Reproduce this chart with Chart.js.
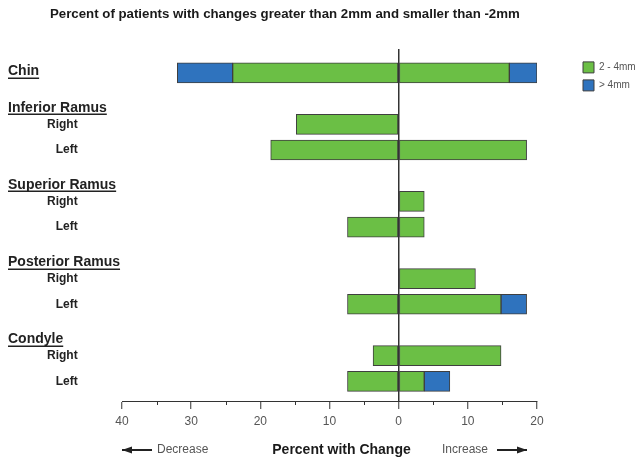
<!DOCTYPE html>
<html>
<head>
<meta charset="utf-8">
<script src="https://cdn.jsdelivr.net/npm/chart.js@4.4.1/dist/chart.umd.min.js"></script>
<style>
  html, body { margin: 0; padding: 0; background: #ffffff; }
  #wrap { width: 639px; height: 464px; }
</style>
</head>
<body>
<div id="wrap"><canvas id="c" width="639" height="464"></canvas></div>
<script>
// ---------------- data ----------------
const chartTitle = "Percent of patients with changes greater than 2mm and smaller than -2mm";
const rows = ["Chin", "Inferior Ramus", "Right", "Left", "Superior Ramus", "Right", "Left",
              "Posterior Ramus", "Right", "Left", "Condyle", "Right", "Left"];
const groupHeaders = ["Chin", "Inferior Ramus", "Superior Ramus", "Posterior Ramus", "Condyle"];
const seriesNames = ["2 - 4mm", "> 4mm"];
// percent of patients (negative = decrease, positive = increase)
const decrease2to4  = [-24, null, -14.8, -18.5, null, null, -7.4, null, null, -7.4, null, -3.7, -7.4];
const decreaseOver4 = [-8,  null, null,  null,  null, null, null, null, null, null, null, null, null];
const increase2to4  = [16,  null, null,  18.5,  null, 3.7,  3.7,  null, 11.1, 14.8, null, 14.8, 3.7];
const increaseOver4 = [4,   null, null,  null,  null, null, null, null, null, 3.7,  null, null, 3.7];
const axisTitle = "Percent with Change";
const decreaseLabel = "Decrease";
const increaseLabel = "Increase";

// ---------------- styling ----------------
const FONT = '"Liberation Sans", Arial, Helvetica, sans-serif';
Chart.defaults.font.family = FONT;
const GREEN = '#6BBF45';
const BLUE = '#2F73BE';
const EDGE = '#3f3f3f';

function makeSet(label, values, color, inLegend) {
  return {
    label: label, data: values, inLegend: inLegend,
    backgroundColor: color, borderColor: EDGE, borderWidth: 1,
    borderSkipped: false, barThickness: 20
  };
}

const headerPlugin = {
  id: 'groupHeaders',
  afterDraw(chart) {
    const ys = chart.scales.y;
    const ctx = chart.ctx;
    const slot = Math.abs(ys.getPixelForValue(1) - ys.getPixelForValue(0));
    ctx.save();
    ctx.font = 'bold 14px ' + FONT;
    ctx.fillStyle = '#222';
    ctx.strokeStyle = '#222';
    ctx.textAlign = 'left';
    ctx.textBaseline = 'middle';
    rows.forEach((r, i) => {
      if (!groupHeaders.includes(r)) return;
      const hasBar = [decrease2to4, decreaseOver4, increase2to4, increaseOver4].some(a => a[i] != null);
      const y = ys.getPixelForValue(i) + (hasBar ? -1.5 : 0.36 * slot);
      const x = 8;
      ctx.fillText(r, x, y);
      const w = ctx.measureText(r).width;
      ctx.lineWidth = 1.5;
      ctx.beginPath();
      ctx.moveTo(x, Math.round(y + 6.5) + 0.25);
      ctx.lineTo(x + w, Math.round(y + 6.5) + 0.25);
      ctx.stroke();
    });
    ctx.restore();
  }
};

function arrow(ctx, x1, x2, y, headAtStart) {
  ctx.beginPath();
  ctx.lineWidth = 2;
  ctx.moveTo(x1, y); ctx.lineTo(x2, y);
  ctx.stroke();
  const hx = headAtStart ? x1 : x2;
  const dir = headAtStart ? 1 : -1;
  ctx.beginPath();
  ctx.moveTo(hx, y);
  ctx.lineTo(hx + dir * 10, y - 3.5);
  ctx.lineTo(hx + dir * 10, y + 3.5);
  ctx.closePath();
  ctx.fill();
}

const bottomPlugin = {
  id: 'bottomRow',
  afterDraw(chart) {
    const ctx = chart.ctx;
    const area = chart.chartArea;
    const xs = chart.scales.x;
    ctx.save();
    // minor tick marks
    ctx.strokeStyle = '#333';
    ctx.lineWidth = 1;
    ctx.beginPath();
    xs.ticks.forEach(t => {
      if (t.value % 10 !== 0) {
        const px = Math.round(xs.getPixelForValue(t.value)) + 0.5;
        ctx.moveTo(px, xs.top);
        ctx.lineTo(px, xs.top + 4);
      }
    });
    ctx.stroke();
    // axis title row
    const y = area.bottom + 49;
    ctx.textBaseline = 'middle';
    ctx.fillStyle = '#1a1a1a';
    ctx.font = 'bold 14px ' + FONT;
    ctx.textAlign = 'center';
    ctx.fillText(axisTitle, (area.left + area.right) / 2 + 12, y);
    ctx.font = '12px ' + FONT;
    ctx.fillStyle = '#555';
    ctx.textAlign = 'left';
    ctx.fillText(decreaseLabel, area.left + 35, y);
    ctx.textAlign = 'right';
    ctx.fillText(increaseLabel, area.right - 49, y);
    ctx.fillStyle = '#222';
    ctx.strokeStyle = '#222';
    arrow(ctx, area.left, area.left + 30, y, true);
    arrow(ctx, area.right - 40, area.right - 10, y, false);
    ctx.restore();
  }
};

new Chart(document.getElementById('c'), {
  type: 'bar',
  data: {
    labels: rows.map((_, i) => i),
    datasets: [
      makeSet(seriesNames[0], decrease2to4, GREEN, false),
      makeSet(seriesNames[1], decreaseOver4, BLUE, false),
      makeSet(seriesNames[0], increase2to4, GREEN, true),
      makeSet(seriesNames[1], increaseOver4, BLUE, true)
    ]
  },
  options: {
    indexAxis: 'y',
    responsive: false,
    animation: false,
    devicePixelRatio: 1,
    layout: { padding: { left: 50, right: 0, top: 0, bottom: 0 } },
    scales: {
      x: {
        type: 'linear', min: -40, max: 20, stacked: true, z: 1,
        afterFit: s => { s.height = 63; },
        grid: {
          drawOnChartArea: true,
          color: c => (c.tick && c.tick.value === 0) ? '#333' : 'rgba(0,0,0,0)',
          lineWidth: 1.5,
          tickLength: 8,
          tickWidth: 1,
          tickColor: c => (c.tick && c.tick.value % 10 === 0) ? '#333' : 'rgba(0,0,0,0)'
        },
        border: { display: true, color: '#333', width: 1 },
        ticks: {
          stepSize: 5, autoSkip: false, maxRotation: 0, padding: 5,
          color: '#555', font: { size: 12 },
          callback: v => (v % 10 === 0) ? String(Math.abs(v)) : ''
        }
      },
      y: {
        type: 'linear', reverse: true, min: -0.934, max: 12.762, stacked: true,
        offset: false, bounds: 'data',
        afterBuildTicks: s => { s.ticks = rows.map((_, i) => ({ value: i })); },
        afterFit: s => { s.width = 72; },
        grid: { display: false, drawTicks: false, tickLength: 0 },
        border: { display: false },
        ticks: {
          mirror: true, crossAlign: 'far', padding: -75, autoSkip: false, color: '#222',
          font: { size: 12, weight: 'bold' },
          callback: v => groupHeaders.includes(rows[v]) ? '' : rows[v]
        }
      },
      y2: {
        type: 'linear', position: 'right', display: true,
        afterFit: s => { s.width = 39; },
        grid: { display: false, drawTicks: false },
        border: { display: false },
        ticks: { display: false }
      }
    },
    plugins: {
      title: {
        display: true, text: chartTitle, align: 'start', color: '#1a1a1a',
        font: { size: 13.25, weight: 'bold' }, padding: { top: 6, bottom: 27 }
      },
      legend: {
        position: 'right', align: 'start', maxWidth: 63, fullSize: false,
        title: { display: true, text: ' ', font: { size: 5, lineHeight: 1.2 }, padding: 0 },
        labels: {
          boxWidth: 11, boxHeight: 11, padding: 7, color: '#555', font: { size: 10 },
          filter: (item, data) => data.datasets[item.datasetIndex].inLegend
        }
      },
      tooltip: { enabled: false }
    }
  },
  plugins: [headerPlugin, bottomPlugin]
});
</script>
</body>
</html>
